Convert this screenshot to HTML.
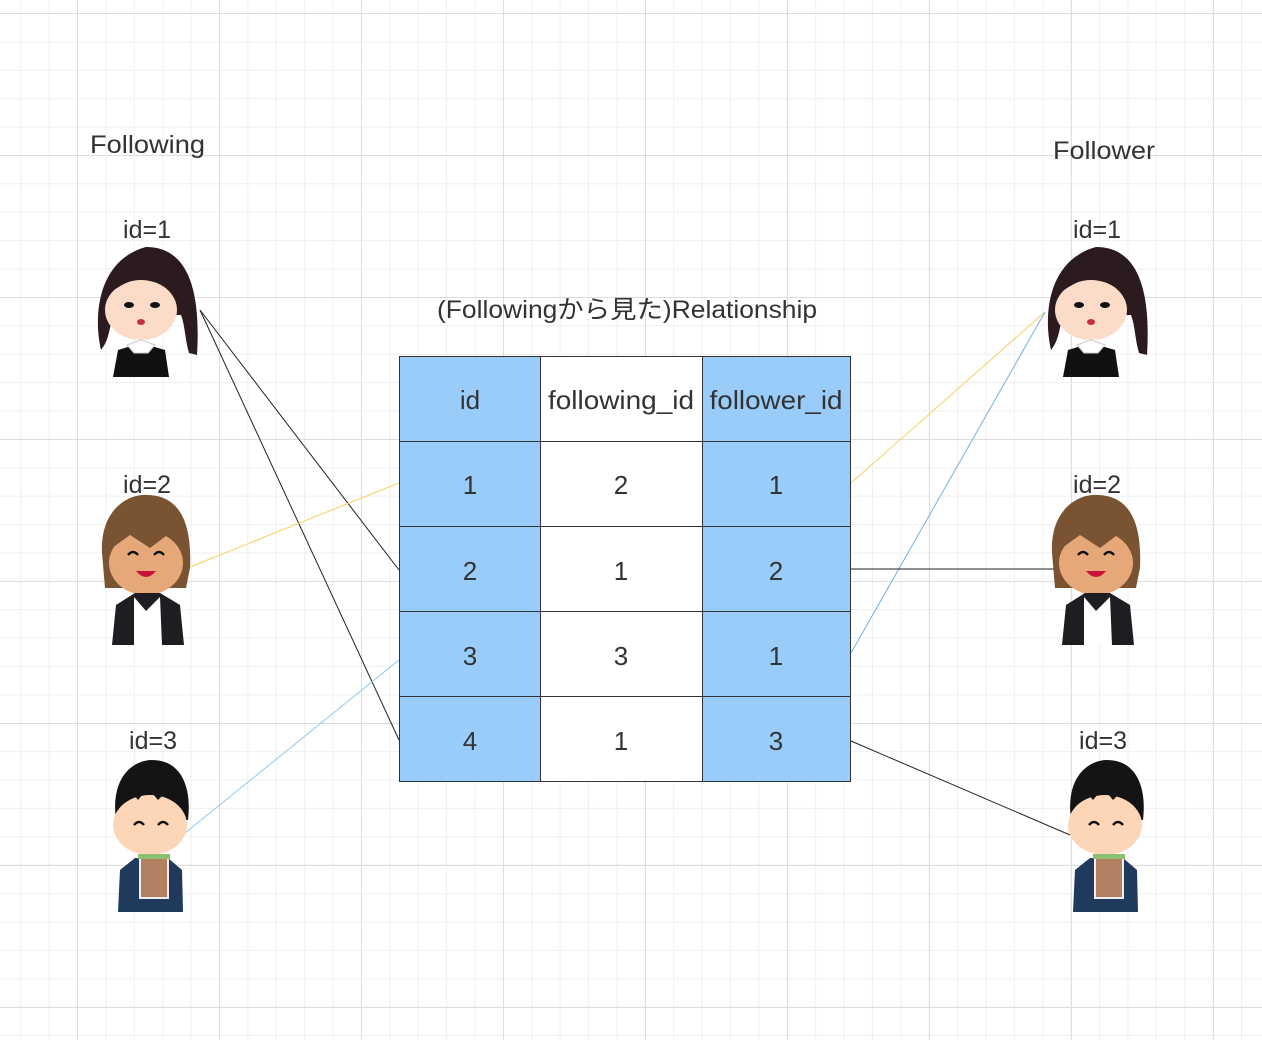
<!DOCTYPE html>
<html><head><meta charset="utf-8"><style>
html,body{margin:0;padding:0;width:1262px;height:1040px;overflow:hidden;background:#fff}
#bg{position:absolute;left:0;top:0;width:1262px;height:1040px;
background-image:
linear-gradient(to right,#dedede 1px,transparent 1px),
linear-gradient(to bottom,#dedede 1px,transparent 1px),
linear-gradient(to right,#efefef 1px,transparent 1px),
linear-gradient(to bottom,#efefef 1px,transparent 1px);
background-size:142px 142px,142px 142px,28.4px 28.4px,28.4px 28.4px;
background-position:77px 13px,77px 13px,77px 13px,77px 13px}
svg{position:absolute;left:0;top:0}
text{font-family:"Liberation Sans","Noto Sans CJK JP",sans-serif;fill:#333}
</style></head><body>
<div id="bg"></div>
<svg width="1262" height="1040" viewBox="0 0 1262 1040">
<defs>
<g id="girl">
<path d="M8,105 C0,70 5,15 53,2 C95,2 108,45 104,110 L96,108 C92,95 92,80 88,70 L20,70 C16,85 16,95 8,105Z" fill="#2b1b1f"/>
<ellipse cx="48" cy="65" rx="36" ry="30" fill="#fcdcc8"/>
<path d="M14,50 C20,20 70,15 88,45 L80,40 C60,28 40,30 14,50Z" fill="#2b1b1f"/>
<ellipse cx="36" cy="60" rx="5" ry="3" fill="#111"/><ellipse cx="62" cy="60" rx="5" ry="3" fill="#111"/>
<ellipse cx="48" cy="77" rx="4" ry="3" fill="#c0304a"/>
<path d="M20,132 L25,105 L48,98 L72,105 L76,132Z" fill="#111"/>
<path d="M34,100 L48,95 L62,100 L55,108 L41,108Z" fill="#fff" stroke="#ccc"/>
</g>
<g id="boy2">
<path d="M2,60 C0,15 30,0 48,2 C80,3 92,30 90,75 L86,95 L5,95Z" fill="#7a5432"/>
<ellipse cx="46" cy="70" rx="37" ry="32" fill="#e6a878"/>
<path d="M12,55 C20,20 70,20 82,55 L70,40 L50,55 L30,42Z" fill="#7a5432"/>
<path d="M28,62 q5,-6 10,0 M54,62 q5,-6 10,0" stroke="#111" stroke-width="2.5" fill="none"/>
<path d="M36,78 q10,12 20,0Z" fill="#c8103a"/>
<path d="M12,152 L16,112 L35,100 L60,100 L80,112 L84,152Z" fill="#1e1e22"/>
<path d="M34,104 L46,118 L60,104 L62,152 L34,152Z" fill="#fff"/>
</g>
<g id="boy3">
<path d="M6,60 C0,15 25,0 42,0 C70,0 82,25 78,60Z" fill="#141414"/>
<ellipse cx="40" cy="65" rx="37" ry="30" fill="#fcd6b6"/>
<path d="M8,45 L20,30 L28,40 L38,28 L48,40 L58,30 L72,45 L72,28 L8,28Z" fill="#141414"/>
<path d="M24,65 q5,-6 10,0 M48,65 q5,-6 10,0" stroke="#111" stroke-width="2.5" fill="none"/>
<path d="M8,152 L10,110 L25,98 L58,98 L72,110 L73,152Z" fill="#1f3a5c"/>
<rect x="30" y="96" width="28" height="42" fill="#b08060" stroke="#eee" stroke-width="2"/>
<rect x="28" y="94" width="32" height="5" fill="#8cbf70"/>
</g>
</defs>
<g stroke-width="1" fill="none">
<line x1="200" y1="310" x2="399" y2="570" stroke="#222"/>
<line x1="200" y1="310" x2="399" y2="740" stroke="#222"/>
<line x1="190" y1="567" x2="399" y2="483" stroke="#f5d060"/>
<line x1="185" y1="833" x2="399" y2="660" stroke="#8ccbee"/>
<line x1="851" y1="483" x2="1045" y2="312" stroke="#f5d060"/>
<line x1="851" y1="653" x2="1045" y2="312" stroke="#6cb4e4"/>
<line x1="851" y1="569" x2="1055" y2="569" stroke="#222"/>
<line x1="851" y1="741" x2="1070" y2="835" stroke="#222"/>
</g>
<use href="#girl" x="93" y="245"/><use href="#boy2" x="100" y="493"/><use href="#boy3" x="110" y="760"/>
<use href="#girl" x="1043" y="245"/><use href="#boy2" x="1050" y="493"/><use href="#boy3" x="1065" y="760"/>
<g font-size="25">
<text x="90" y="153" textLength="115" lengthAdjust="spacingAndGlyphs">Following</text>
<text x="1053" y="159" textLength="102" lengthAdjust="spacingAndGlyphs">Follower</text>
<text x="147" y="238" text-anchor="middle">id=1</text>
<text x="147" y="493" text-anchor="middle">id=2</text>
<text x="153" y="749" text-anchor="middle">id=3</text>
<text x="1097" y="238" text-anchor="middle">id=1</text>
<text x="1097" y="493" text-anchor="middle">id=2</text>
<text x="1103" y="749" text-anchor="middle">id=3</text>
<text x="437" y="318" textLength="380" lengthAdjust="spacingAndGlyphs">(Followingから見た)Relationship</text>
</g>
<g stroke="#333" stroke-width="1">
<rect x="399.5" y="356.5" width="141" height="425" fill="#99ccf9"/>
<rect x="540.5" y="356.5" width="162" height="425" fill="#fff"/>
<rect x="702.5" y="356.5" width="148" height="425" fill="#99ccf9"/>
<line x1="399" y1="441.5" x2="851" y2="441.5"/>
<line x1="399" y1="526.5" x2="851" y2="526.5"/>
<line x1="399" y1="611.5" x2="851" y2="611.5"/>
<line x1="399" y1="696.5" x2="851" y2="696.5"/>
</g>
<g font-size="26" text-anchor="middle">
<text x="470" y="409">id</text><text x="621" y="409" textLength="146" lengthAdjust="spacingAndGlyphs">following_id</text><text x="776" y="409" textLength="133" lengthAdjust="spacingAndGlyphs">follower_id</text>
<text x="470" y="494">1</text><text x="621" y="494">2</text><text x="776" y="494">1</text>
<text x="470" y="580">2</text><text x="621" y="580">1</text><text x="776" y="580">2</text>
<text x="470" y="665">3</text><text x="621" y="665">3</text><text x="776" y="665">1</text>
<text x="470" y="750">4</text><text x="621" y="750">1</text><text x="776" y="750">3</text>
</g>
</svg>
</body></html>
